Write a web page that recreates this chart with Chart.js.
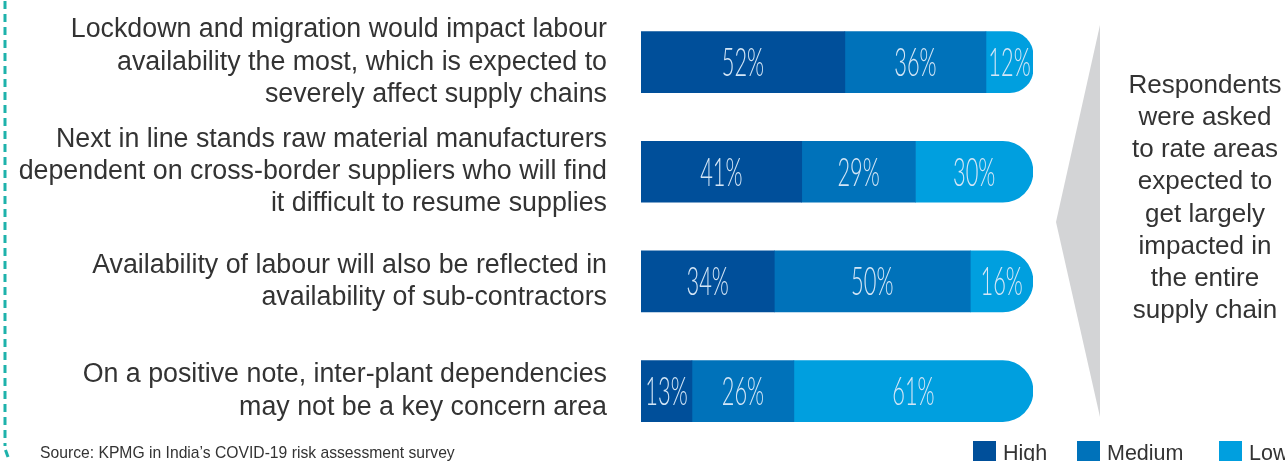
<!DOCTYPE html>
<html>
<head>
<meta charset="utf-8">
<script src="https://cdn.jsdelivr.net/npm/chart.js@4"></script>
<style>
  html, body { margin: 0; padding: 0; background: #ffffff; overflow: hidden; }
  #wrap { position: relative; width: 1285px; height: 461px; }
  canvas { display: block; }
</style>
</head>
<body>
<div id="wrap"><canvas id="c" width="1285" height="461"></canvas></div>
<script>
// ---- data ----
const categories = [
  ["Lockdown and migration would impact labour", "availability the most, which is expected to", "severely affect supply chains"],
  ["Next in line stands raw material manufacturers", "dependent on cross-border suppliers who will find", "it difficult to resume supplies"],
  ["Availability of labour will also be reflected in", "availability of sub-contractors"],
  ["On a positive note, inter-plant dependencies", "may not be a key concern area"]
];
const seriesNames = ["High", "Medium", "Low"];
const highValues = [52, 41, 34, 13];
const mediumValues = [36, 29, 50, 26];
const lowValues = [12, 30, 16, 61];
const noteLines = ["Respondents", "were asked", "to rate areas", "expected to", "get largely", "impacted in", "the entire", "supply chain"];
const sourceText = "Source: KPMG in India\u2019s COVID-19 risk assessment survey";

// ---- styles ----
const colors = ["#004F9A", "#0072BA", "#009FDF"];
const TEXT = "#333333";
const SANS = "'Liberation Sans', Arial, sans-serif";

const decorPlugin = {
  id: 'decor',
  beforeDraw(chart) {
    const ctx = chart.ctx;
    ctx.save();
    // teal dashed line on the left
    ctx.strokeStyle = '#1EB2AB';
    ctx.lineWidth = 3;
    ctx.setLineDash([8, 5]);
    ctx.beginPath();
    ctx.moveTo(5, 1);
    ctx.lineTo(5, 446);
    ctx.stroke();
    ctx.setLineDash([]);
    ctx.beginPath();
    ctx.moveTo(5.5, 450);
    ctx.lineTo(8, 457);
    ctx.stroke();
    // grey arrow / bracket
    ctx.fillStyle = '#D3D4D6';
    ctx.beginPath();
    ctx.moveTo(1100, 25);
    ctx.lineTo(1056, 222);
    ctx.lineTo(1100, 417);
    ctx.closePath();
    ctx.fill();
    ctx.restore();
  },
  afterDraw(chart) {
    const ctx = chart.ctx;
    ctx.save();
    // percentage labels inside the bars
    chart.data.datasets.forEach((ds, di) => {
      const meta = chart.getDatasetMeta(di);
      meta.data.forEach((el, i) => {
        const cx = (el.x + el.base) / 2;
        const cy = el.y;
        ctx.save();
        ctx.translate(cx, cy + 14);
        ctx.scale(0.56, 1);
        ctx.font = "300 39px Lato, Roboto, 'Liberation Sans', sans-serif";
        ctx.fillStyle = '#D4E6F6';
        ctx.textAlign = 'center';
        ctx.textBaseline = 'alphabetic';
        ctx.fillText(ds.data[i] + '%', 0, 0);
        ctx.restore();
      });
    });
    // right side note
    ctx.fillStyle = TEXT;
    ctx.font = "26px " + SANS;
    ctx.textAlign = 'center';
    ctx.textBaseline = 'middle';
    noteLines.forEach((t, i) => ctx.fillText(t, 1205, 86 + i * 32.1));
    // source
    ctx.textAlign = 'left';
    ctx.textBaseline = 'alphabetic';
    ctx.font = "15.7px " + SANS;
    ctx.fillText(sourceText, 40, 458);
    // legend
    const lx = [973, 1077, 1219];
    ctx.font = "21.5px " + SANS;
    chart.data.datasets.forEach((ds, di) => {
      ctx.fillStyle = ds.backgroundColor;
      ctx.fillRect(lx[di], 441, 23, 23);
      ctx.fillStyle = TEXT;
      ctx.fillText(ds.label, lx[di] + 30, 460);
    });
    ctx.restore();
  }
};

new Chart(document.getElementById('c'), {
  type: 'bar',
  data: {
    labels: categories,
    datasets: [
      { label: seriesNames[0], data: highValues, backgroundColor: colors[0], barThickness: 61, borderWidth: 0 },
      { label: seriesNames[1], data: mediumValues, backgroundColor: colors[1], barThickness: 61, borderWidth: 0 },
      { label: seriesNames[2], data: lowValues, backgroundColor: colors[2], barThickness: 61, borderWidth: 0,
        borderRadius: { topLeft: 0, bottomLeft: 0, topRight: 31, bottomRight: 31 } }
    ]
  },
  options: {
    indexAxis: 'y',
    responsive: false,
    animation: false,
    layout: { padding: { left: 0, right: 252, top: 7.3, bottom: 15.1 } },
    plugins: { legend: { display: false }, tooltip: { enabled: false } },
    scales: {
      x: { stacked: true, min: 0, max: 100, display: false },
      y: {
        stacked: true,
        grid: { display: false, drawTicks: false, tickLength: 0 },
        border: { display: false },
        ticks: {
          autoSkip: false,
          padding: 34,
          color: TEXT,
          font: { family: SANS, size: 26.8, lineHeight: 1.2 }
        },
        afterFit(scale) {
          scale.width = 641;
          scale.paddingTop = 0;
          scale.paddingBottom = 0;
        }
      }
    }
  },
  plugins: [decorPlugin]
});
</script>
</body>
</html>
